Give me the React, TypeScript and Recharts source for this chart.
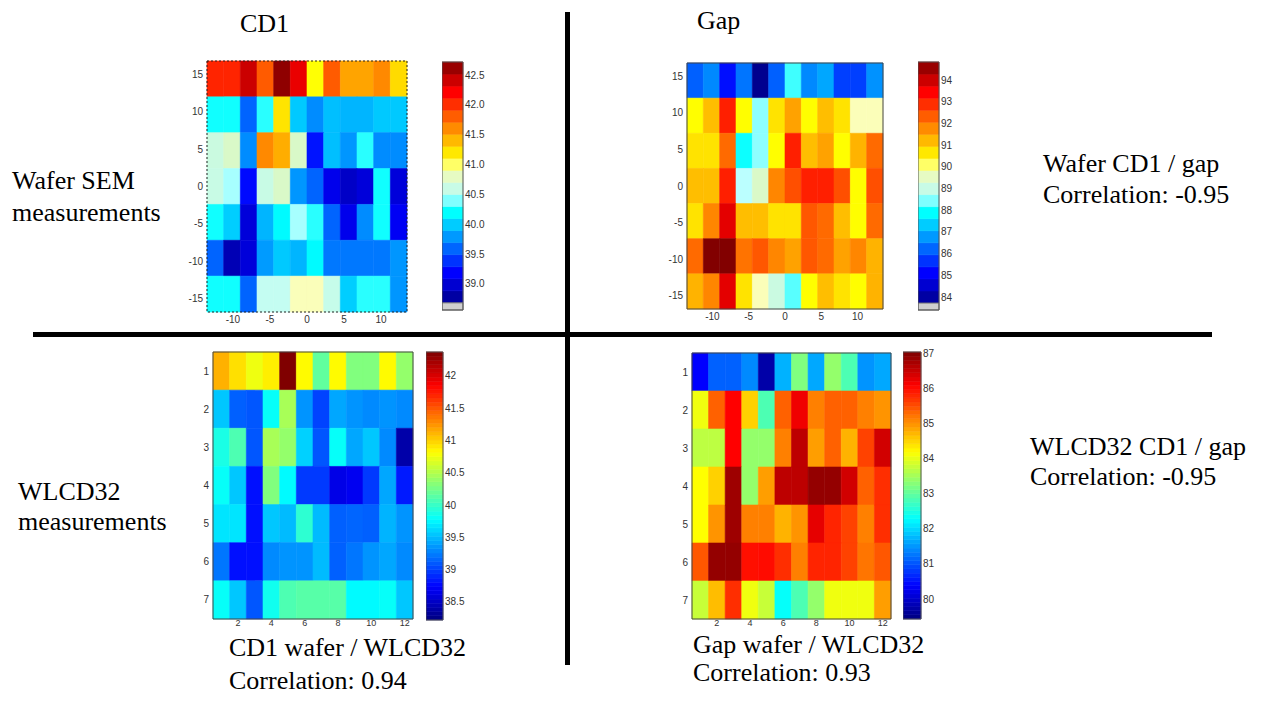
import { ScatterChart, Scatter, XAxis, YAxis, ReferenceArea } from "recharts"

// cell centres
const waferX = [-12.375, -10.125, -7.875, -5.625, -3.375, -1.125, 1.125, 3.375, 5.625, 7.875, 10.125, 12.375]
const waferY = [14.4, 9.6, 4.8, 0, -4.8, -9.6, -14.4]
const wlcdX = [1, 2, 3, 4, 5, 6, 7, 8, 9, 10, 11, 12]
const wlcdY = [1, 2, 3, 4, 5, 6, 7]

const waferXTicks = [-10, -5, 0, 5, 10]
const waferYTicks = [15, 10, 5, 0, -5, -10, -15]
const wlcdXTicks = [2, 4, 6, 8, 10, 12]
const wlcdYTicks = [1, 2, 3, 4, 5, 6, 7]

// Wafer SEM CD1
const cd1Wafer = [
  [42.06, 42.06, 42.42, 41.82, 42.66, 42.3, 41.1, 41.82, 41.5, 41.5, 41.62, 41.26],
  [40.22, 40.22, 39.58, 40.26, 41.22, 39.98, 39.74, 39.94, 39.9, 39.9, 39.98, 39.98],
  [40.62, 40.74, 39.74, 41.62, 41.46, 40.74, 39.26, 39.94, 39.78, 40.26, 39.74, 39.74],
  [40.6, 40.46, 39.22, 40.6, 40.74, 39.78, 39.58, 39.1, 38.94, 39.02, 40.22, 39.02],
  [40.22, 40.0, 39.02, 39.9, 40.18, 40.46, 40.26, 39.58, 39.1, 39.74, 40.22, 39.14],
  [39.58, 38.86, 39.02, 39.8, 39.98, 39.9, 40.18, 39.66, 39.66, 39.66, 39.66, 39.78],
  [40.22, 40.22, 39.58, 40.55, 40.55, 40.9, 40.9, 40.58, 40.0, 40.26, 40.26, 39.78],
]

// Wafer SEM gap
const gapWafer = [
  [86.15, 86.6, 85.26, 86.38, 83.75, 86.15, 88.16, 86.6, 86.93, 85.8, 85.8, 86.7],
  [90.4, 91.17, 93.07, 90.4, 88.5, 90.72, 91.5, 90.4, 91.17, 90.72, 89.83, 89.83],
  [90.72, 90.72, 92.17, 87.94, 88.5, 90.4, 93.07, 91.17, 91.5, 90.4, 91.3, 92.17],
  [91.17, 91.17, 93.07, 88.7, 89.4, 91.84, 92.5, 93.07, 93.07, 92.5, 90.4, 92.5],
  [90.72, 91.84, 93.74, 91.17, 91.17, 90.72, 90.72, 92.4, 92.17, 91.17, 90.4, 92.17],
  [92.17, 94.8, 94.8, 92.06, 92.4, 91.84, 91.5, 92.4, 92.17, 91.5, 91.84, 91.3],
  [91.3, 91.84, 93.74, 90.72, 89.83, 89.05, 88.27, 90.4, 91.17, 90.72, 90.4, 91.3],
]

// WLCD32 CD1
const cd1Wlcd = [
  [41.13, 40.94, 40.75, 40.88, 42.37, 40.83, 40.17, 40.83, 40.3, 40.3, 40.83, 40.38],
  [39.55, 39.13, 39.09, 39.8, 40.46, 39.34, 39.01, 39.42, 39.34, 39.3, 39.34, 39.3],
  [39.88, 40.09, 39.09, 40.46, 40.38, 39.59, 39.09, 39.8, 39.42, 39.55, 39.3, 38.39],
  [39.8, 39.55, 38.8, 40.3, 39.76, 38.97, 38.97, 38.64, 38.68, 38.97, 39.42, 38.84],
  [39.67, 39.67, 38.8, 39.55, 39.5, 39.96, 39.5, 39.13, 39.15, 39.13, 39.47, 39.34],
  [39.22, 38.8, 38.8, 39.3, 39.34, 39.34, 39.5, 39.13, 39.22, 39.34, 39.42, 39.3],
  [39.8, 39.55, 39.09, 39.84, 40.09, 40.13, 40.13, 40.13, 39.76, 39.76, 39.8, 39.55],
]

// WLCD32 gap
const gapWlcd = [
  [80.38, 81.1, 81.1, 81.41, 79.73, 81.71, 83.23, 81.63, 83.38, 82.85, 81.48, 81.63],
  [84.07, 85.36, 86.08, 84.52, 82.85, 85.36, 86.19, 85.13, 85.36, 85.36, 85.13, 84.98],
  [83.69, 83.69, 86.08, 83.38, 83.38, 85.13, 86.57, 84.9, 85.36, 84.75, 85.59, 86.42],
  [84.18, 84.52, 86.8, 83.38, 84.9, 86.57, 86.57, 86.88, 86.88, 86.42, 85.36, 85.74],
  [84.18, 84.98, 86.8, 85.13, 85.13, 84.75, 84.98, 86.27, 85.81, 85.59, 85.13, 85.74],
  [85.43, 86.88, 86.88, 85.97, 86.0, 85.74, 85.13, 85.81, 85.81, 85.59, 85.21, 85.43],
  [83.76, 84.67, 85.74, 84.07, 83.76, 82.32, 82.85, 83.38, 84.07, 84.07, 84.07, 84.9],
]

const cd1WaferTicks = [39.0, 39.5, 40.0, 40.5, 41.0, 41.5, 42.0, 42.5]
const gapWaferTicks = [84, 85, 86, 87, 88, 89, 90, 91, 92, 93, 94]
const cd1WlcdTicks = [38.5, 39, 39.5, 40, 40.5, 41, 41.5, 42]
const gapWlcdTicks = [80, 81, 82, 83, 84, 85, 86, 87]

type RGB = [number, number, number]
type Stops = [number, RGB][]

const jet: Stops = [
  [0, [0, 0, 0.5]],
  [0.125, [0, 0, 1]],
  [0.375, [0, 1, 1]],
  [0.625, [1, 1, 0]],
  [0.875, [1, 0, 0]],
  [1, [0.5, 0, 0]],
]

// jet with a whitened middle, as used by the wafer maps
const paleJet: Stops = [
  [0, [0, 0, 0.55]],
  [0.125, [0, 0, 1]],
  [0.375, [0, 1, 1]],
  [0.45, [0.75, 1, 1]],
  [0.5, [0.82, 0.97, 0.8]],
  [0.555, [1, 1, 0.72]],
  [0.6, [1, 1, 0]],
  [0.875, [1, 0, 0]],
  [1, [0.5, 0, 0]],
]

function colorAt(stops: Stops, t: number) {
  const u = Math.max(0, Math.min(1, t))
  for (let i = 1; i < stops.length; i++) {
    const [t1, c1] = stops[i]
    const [t0, c0] = stops[i - 1]
    if (u <= t1) {
      const f = (u - t0) / (t1 - t0)
      const c = c0.map((v, k) => Math.round(255 * (v + (c1[k] - v) * f)))
      return `rgb(${c[0]},${c[1]},${c[2]})`
    }
  }
  return "rgb(128,0,0)"
}

const tickStyle = { fontSize: 10, fill: "#333", fontFamily: "Liberation Sans, Arial, sans-serif" }
const smallTickStyle = { fontSize: 9, fill: "#333", fontFamily: "Liberation Sans, Arial, sans-serif" }

type Box = { x: number; y: number; w: number; h: number }

function Heatmap(props: {
  box: Box
  xs: number[]
  ys: number[]
  values: number[][]
  clim: [number, number]
  stops: Stops
  xDomain: [number, number]
  yDomain: [number, number]
  xTicks: number[]
  yTicks: number[]
  reversed?: boolean
  dotted?: boolean
  xTickGap?: number
}) {
  const { box, xs, ys, values, clim, stops, xDomain, yDomain, xTicks, yTicks, reversed, dotted, xTickGap } = props
  const yw = 28
  const xh = 20
  const top = 8
  const dx = Math.abs(xs[1] - xs[0])
  const dy = Math.abs(ys[1] - ys[0])
  const cells: { x: number; y: number; v: number }[] = []
  values.forEach((row, r) => row.forEach((v, c) => cells.push({ x: xs[c], y: ys[r], v })))
  return (
    <div style={{ position: "absolute", left: box.x - yw, top: box.y - top }}>
      <ScatterChart width={box.w + yw + 4} height={box.h + top + xh} margin={{ top, right: 4, bottom: 0, left: 0 }}>
        <XAxis
          type="number"
          dataKey="x"
          domain={xDomain}
          allowDataOverflow
          ticks={xTicks}
          interval={0}
          tickLine={false}
          axisLine={false}
          tickSize={1}
          tickMargin={xTickGap ?? 3}
          height={xh}
          tick={reversed ? smallTickStyle : tickStyle}
        />
        <YAxis
          type="number"
          dataKey="y"
          domain={yDomain}
          allowDataOverflow
          reversed={reversed}
          ticks={yTicks}
          interval={0}
          tickLine={false}
          axisLine={false}
          tickSize={2}
          tickMargin={2}
          width={yw}
          tick={tickStyle}
        />
        {cells.map((c, i) => {
          const col = colorAt(stops, (c.v - clim[0]) / (clim[1] - clim[0]))
          return (
            <ReferenceArea
              key={i}
              x1={c.x - dx / 2}
              x2={c.x + dx / 2}
              y1={c.y - dy / 2}
              y2={c.y + dy / 2}
              fill={col}
              fillOpacity={1}
              stroke={col}
              strokeWidth={0.6}
            />
          )
        })}
        <ReferenceArea
          x1={xDomain[0]}
          x2={xDomain[1]}
          y1={yDomain[0]}
          y2={yDomain[1]}
          fill="none"
          stroke={dotted ? "#222" : "#444"}
          strokeWidth={1}
          strokeDasharray={dotted ? "2 2" : undefined}
        />
        <Scatter data={cells} isAnimationActive={false} shape={() => <g />} />
      </ScatterChart>
    </div>
  )
}

function Colorbar(props: {
  box: Box
  clim: [number, number]
  stops: Stops
  ticks: number[]
  levels: number
  fixed?: number
  nanBox?: number
}) {
  const { box, clim, stops, ticks, levels, fixed, nanBox } = props
  const lo = nanBox ? clim[0] - nanBox : clim[0]
  const step = (clim[1] - clim[0]) / levels
  const bands = Array.from({ length: levels }, (_, i) => ({
    y1: clim[0] + i * step,
    y2: clim[0] + (i + 1) * step,
    color: colorAt(stops, (i + 0.5) / levels),
  }))
  const rw = 30
  const pad = 8
  return (
    <div style={{ position: "absolute", left: box.x, top: box.y - pad }}>
      <ScatterChart width={box.w + rw} height={box.h + 2 * pad} margin={{ top: pad, right: 0, bottom: pad, left: 0 }}>
        <XAxis type="number" dataKey="x" domain={[0, 1]} hide />
        <YAxis
          type="number"
          dataKey="y"
          orientation="right"
          domain={[lo, clim[1]]}
          allowDataOverflow
          ticks={ticks}
          interval={0}
          tickLine={false}
          axisLine={false}
          tickSize={1}
          tickMargin={1}
          width={rw}
          tick={tickStyle}
          tickFormatter={(v: number) => (fixed ? v.toFixed(fixed) : String(v))}
        />
        {bands.map((b, i) => (
          <ReferenceArea key={i} x1={0} x2={1} y1={b.y1} y2={b.y2} fill={b.color} fillOpacity={1} stroke={b.color} strokeWidth={0.6} />
        ))}
        {nanBox ? (
          <ReferenceArea x1={0} x2={1} y1={lo} y2={clim[0]} fill="#cfcfcf" fillOpacity={1} stroke="#777" strokeWidth={1} />
        ) : null}
        <ReferenceArea x1={0} x2={1} y1={lo} y2={clim[1]} fill="none" stroke="#555" strokeWidth={1} />
        <Scatter data={[{ x: 0.5, y: clim[1] }]} isAnimationActive={false} shape={() => <g />} />
      </ScatterChart>
    </div>
  )
}

const serif = "Liberation Serif, Times New Roman, serif"

export default function App() {
  return (
    <div style={{ position: "absolute", left: 0, top: 0, width: 1262, height: 720, background: "#fff", overflow: "hidden" }}>
      <Heatmap
        box={{ x: 207, y: 61, w: 200, h: 251 }}
        xs={waferX}
        ys={waferY}
        values={cd1Wafer}
        clim={[38.68, 42.72]}
        stops={paleJet}
        xDomain={[-13.5, 13.5]}
        yDomain={[-16.8, 16.8]}
        xTicks={waferXTicks}
        yTicks={waferYTicks}
        dotted
      />
      <Colorbar box={{ x: 442, y: 62, w: 21, h: 248 }} clim={[38.68, 42.72]} stops={paleJet} ticks={cd1WaferTicks} levels={20} fixed={1} nanBox={0.12} />

      <Heatmap
        box={{ x: 687, y: 63, w: 196, h: 246 }}
        xs={waferX}
        ys={waferY}
        values={gapWafer}
        clim={[83.72, 94.83]}
        stops={paleJet}
        xDomain={[-13.5, 13.5]}
        yDomain={[-16.8, 16.8]}
        xTicks={waferXTicks}
        yTicks={waferYTicks}
      />
      <Colorbar box={{ x: 918, y: 62, w: 21, h: 248 }} clim={[83.72, 94.83]} stops={paleJet} ticks={gapWaferTicks} levels={20} nanBox={0.32} />

      <Heatmap
        box={{ x: 213, y: 352, w: 200, h: 267 }}
        xs={wlcdX}
        ys={wlcdY}
        values={cd1Wlcd}
        clim={[38.22, 42.37]}
        stops={jet}
        xDomain={[0.5, 12.5]}
        yDomain={[0.5, 7.5]}
        xTicks={wlcdXTicks}
        yTicks={wlcdYTicks}
        reversed
        xTickGap={0}
      />
      <Colorbar box={{ x: 426, y: 352, w: 17, h: 268 }} clim={[38.22, 42.37]} stops={jet} ticks={cd1WlcdTicks} levels={64} />

      <Heatmap
        box={{ x: 692, y: 353, w: 199, h: 266 }}
        xs={wlcdX}
        ys={wlcdY}
        values={gapWlcd}
        clim={[79.43, 87.03]}
        stops={jet}
        xDomain={[0.5, 12.5]}
        yDomain={[0.5, 7.5]}
        xTicks={wlcdXTicks}
        yTicks={wlcdYTicks}
        reversed
        xTickGap={0}
      />
      <Colorbar box={{ x: 903, y: 352, w: 18, h: 267 }} clim={[79.43, 87.03]} stops={jet} ticks={gapWlcdTicks} levels={64} />

      <svg width={1262} height={720} style={{ position: "absolute", left: 0, top: 0, pointerEvents: "none" }}>
        <rect x={565} y={12} width={5} height={653} fill="#000" />
        <rect x={33} y={332} width={1179} height={5} fill="#000" />
        <g fontFamily={serif} fontSize={26} fill="#000">
          <text x={240} y={32}>CD1</text>
          <text x={697} y={29}>Gap</text>
          <text x={12} y={189}>Wafer SEM</text>
          <text x={12} y={221}>measurements</text>
          <text x={1043} y={172}>Wafer CD1 / gap</text>
          <text x={1043} y={203}>Correlation: -0.95</text>
          <text x={18} y={500}>WLCD32</text>
          <text x={18} y={530}>measurements</text>
          <text x={1030} y={455}>WLCD32 CD1 / gap</text>
          <text x={1030} y={485}>Correlation: -0.95</text>
          <text x={229} y={656}>CD1 wafer / WLCD32</text>
          <text x={229} y={689}>Correlation: 0.94</text>
          <text x={693} y={653}>Gap wafer / WLCD32</text>
          <text x={693} y={681}>Correlation: 0.93</text>
        </g>
      </svg>
    </div>
  )
}
